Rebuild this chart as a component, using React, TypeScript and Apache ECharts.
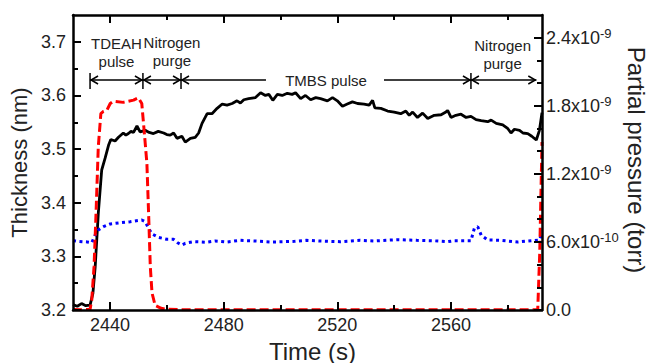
import React, { useEffect, useRef } from "react";
import * as echarts from "echarts";

// Thickness (nm) vs time (s)
const thicknessTime = [
  2427, 2428.5, 2430, 2431.5, 2433, 2434, 2434.8, 2435.9, 2437.1, 2438.3, 2439.5, 2440.3, 2441.8, 2443,
  2444.7, 2445.6, 2446.5, 2447.4, 2448.3, 2449.5, 2450.6, 2452.4, 2453.8, 2455.3, 2457, 2458.9, 2460,
  2461.2, 2462.4, 2463.6, 2465.3, 2466.5, 2468.3, 2470, 2471.2, 2472.4, 2474.2, 2475.9, 2477.7, 2479.5,
  2481.2, 2483, 2484.7, 2485.9, 2487.1, 2488.8, 2491.2, 2493, 2494.7, 2495.9, 2497.3, 2498.9, 2500.6,
  2502.4, 2504.1, 2505.3, 2507.1, 2508.8, 2510.6, 2512.4, 2514.1, 2516.5, 2518.3, 2520, 2521.8, 2523.5,
  2525.3, 2527.1, 2529.4, 2531.2, 2532.4, 2533.2, 2535.3, 2537.7, 2540, 2542.3, 2544.1, 2545.3, 2546.5,
  2548.2, 2550, 2551.8, 2554.1, 2556.5, 2558.2, 2558.8, 2560, 2561.7, 2563.5, 2565.3, 2567, 2568.8,
  2570.6, 2572.9, 2574.1, 2575.9, 2578.2, 2580, 2581.1, 2582.3, 2584.1, 2585.3, 2587, 2588.4, 2590,
  2591.1, 2592,
];
const thicknessNm = [
  3.21, 3.207, 3.212, 3.208, 3.209, 3.231, 3.28, 3.38, 3.461, 3.483, 3.507, 3.518, 3.515, 3.522,
  3.53, 3.526, 3.529, 3.533, 3.531, 3.543, 3.532, 3.535, 3.531, 3.529, 3.533, 3.53, 3.527,
  3.526, 3.53, 3.52, 3.524, 3.513, 3.52, 3.522, 3.53, 3.548, 3.566, 3.566, 3.576, 3.584,
  3.582, 3.585, 3.59, 3.586, 3.592, 3.594, 3.596, 3.605, 3.6, 3.602, 3.591, 3.602, 3.6,
  3.604, 3.602, 3.605, 3.594, 3.6, 3.592, 3.596, 3.594, 3.59, 3.596, 3.59, 3.58, 3.584,
  3.588, 3.585, 3.584, 3.582, 3.591, 3.577, 3.576, 3.571, 3.569, 3.566, 3.571, 3.563, 3.569,
  3.559, 3.567, 3.557, 3.563, 3.564, 3.569, 3.572, 3.559, 3.563, 3.565, 3.559, 3.561, 3.555,
  3.553, 3.551, 3.554, 3.548, 3.545, 3.538, 3.53, 3.537, 3.535, 3.53, 3.529, 3.524, 3.517,
  3.535, 3.568,
];

// TDEAH partial pressure, in units of 1e-10 torr
const tdeahTime = [
  2427, 2430, 2433, 2433.6, 2434.4, 2435.1, 2435.9, 2436.8, 2437.7, 2438.9, 2440.1, 2441.2, 2444.7,
  2448.3, 2450, 2451.2, 2452, 2453, 2453.6, 2454.2, 2454.8, 2455.9, 2458, 2460, 2465, 2480, 2500,
  2520, 2540, 2560, 2580, 2590.5, 2591.2, 2592,
];
const tdeahPressure = [
  0.05, 0.03, 0.05, 0.9, 3.8, 8.5, 14.4, 17.3, 17.5, 17.6, 18.2, 18.4, 18.3,
  18.5, 18.7, 18.2, 15.9, 12.9, 8.5, 3.8, 1.5, 0.4, 0.15, 0.06, 0.03, 0.03, 0.03,
  0.03, 0.03, 0.03, 0.03, 0.03, 5, 14.8,
];

// TMBS partial pressure, in units of 1e-10 torr
const tmbsTime = [
  2427, 2429, 2430.6, 2432, 2433.6, 2434.8, 2435.9, 2437.7, 2440.1, 2443.6, 2447.1, 2451.2, 2452.4,
  2453.6, 2454.8, 2457.1, 2460, 2462.4, 2463.8, 2465.3, 2466.5, 2469.4, 2471.8, 2474, 2477, 2481,
  2485.9, 2491, 2497, 2501, 2505, 2509, 2514, 2521, 2528, 2533, 2541, 2548, 2554, 2558.8, 2561,
  2567, 2568.2, 2569.4, 2570.6, 2572.9, 2577.6, 2583.5, 2587, 2591.1, 2592,
];
const tmbsPressure = [
  6.11, 6.05, 6.02, 6.0, 5.93, 6.61, 7.05, 7.34, 7.58, 7.69, 7.78, 7.93, 7.78,
  7.2, 6.7, 6.4, 6.23, 6.23, 5.93, 5.73, 5.88, 6.02, 6.0, 5.97, 6.08, 5.99,
  6.14, 6.08, 5.99, 6.02, 6.05, 6.14, 6.08, 6.02, 6.14, 6.08, 6.2, 6.14, 6.1, 6.02, 6.1,
  6.1, 7.2, 7.34, 6.6, 6.17, 6.14, 5.99, 6.08, 6.17, 6.76,
];

const PRESSURE_UNIT = 1e-10;

const xMajorTicks = [2440, 2480, 2520, 2560];
const xMinorTicks = [2460, 2500, 2540, 2580];
const leftMajorTicks = [3.2, 3.3, 3.4, 3.5, 3.6, 3.7];
const leftMinorTicks = [3.25, 3.35, 3.45, 3.55, 3.65];
const rightMajorTicks = [0, 6, 12, 18, 24];
const rightMinorTicks = [2, 4, 8, 10, 14, 16, 20, 22];

// Phase annotations (time positions of the markers)
const phaseBounds = [2433, 2451.6, 2465, 2567, 2590];
const phaseLabels = ["TDEAH\npulse", "Nitrogen\npurge", "TMBS pulse", "Nitrogen\npurge"];
const rightAxisTitle = "Partial pressure (torr)";

const FONT = "'Liberation Sans', Arial, Helvetica, sans-serif";
const TEXT = "#222";

function pressureLabel(v: number): string {
  if (Math.abs(v) < 1e-9) return "{m|0.0}";
  const val = v * PRESSURE_UNIT;
  const e = Math.floor(Math.log10(val) + 1e-9);
  const m = val / Math.pow(10, e);
  return `{m|${m.toFixed(1)}x10}{s|${e}}`;
}

export default function App() {
  const ref = useRef<HTMLDivElement>(null);

  useEffect(() => {
    document.body.style.margin = "0";
    const el = ref.current;
    if (!el) return;
    const chart = echarts.init(el, null, { renderer: "svg" });

    const xMin = 2427;
    const xMax = 2592;
    const axisLine = { show: true, lineStyle: { color: "#000", width: 2.5 } };
    const majorTick = (vals: number[]) => ({
      show: true,
      inside: true,
      length: 8,
      customValues: vals,
      lineStyle: { color: "#000", width: 2 },
    });
    const minorTick = (vals: number[]) => ({
      show: true,
      inside: true,
      length: 5,
      customValues: vals,
      lineStyle: { color: "#000", width: 2 },
    });

    const option: any = {
      animation: false,
      backgroundColor: "#fff",
      grid: {
        left: 73,
        right: 108,
        top: 15,
        bottom: 53,
        containLabel: false,
        outerBoundsMode: "none",
      },
      xAxis: [
        {
          type: "value",
          min: xMin,
          max: xMax,
          position: "bottom",
          axisLine,
          axisTick: majorTick(xMajorTicks),
          axisLabel: {
            customValues: xMajorTicks,
            formatter: (v: number) => String(Math.round(v)),
            fontSize: 18,
            fontFamily: FONT,
            color: TEXT,
            margin: 6,
          },
          splitLine: { show: false },
          name: "Time (s)",
          nameLocation: "middle",
          nameGap: 29,
          nameTextStyle: { fontSize: 24, fontFamily: FONT, color: TEXT, padding: [0, 0, 0, 10] },
          z: 10,
        },
        {
          type: "value",
          min: xMin,
          max: xMax,
          position: "bottom",
          axisLine: { show: false },
          axisTick: minorTick(xMinorTicks),
          axisLabel: { show: false, customValues: xMinorTicks },
          splitLine: { show: false },
          z: 10,
        },
        {
          type: "value",
          min: xMin,
          max: xMax,
          position: "top",
          axisLine,
          axisTick: majorTick(xMajorTicks),
          axisLabel: { show: false, customValues: xMajorTicks },
          splitLine: { show: false },
          z: 10,
        },
        {
          type: "value",
          min: xMin,
          max: xMax,
          position: "top",
          axisLine: { show: false },
          axisTick: minorTick(xMinorTicks),
          axisLabel: { show: false, customValues: xMinorTicks },
          splitLine: { show: false },
          z: 10,
        },
      ],
      yAxis: [
        {
          type: "value",
          min: 3.2,
          max: 3.75,
          position: "left",
          axisLine,
          axisTick: majorTick(leftMajorTicks),
          axisLabel: {
            customValues: leftMajorTicks,
            formatter: (v: number) => v.toFixed(1),
            fontSize: 18,
            fontFamily: FONT,
            color: TEXT,
            margin: 7,
          },
          splitLine: { show: false },
          name: "Thickness (nm)",
          nameLocation: "middle",
          nameGap: 40,
          nameTextStyle: { fontSize: 22, fontFamily: FONT, color: TEXT },
          z: 10,
        },
        {
          type: "value",
          min: 0,
          max: 26,
          position: "right",
          axisLine,
          axisTick: majorTick(rightMajorTicks),
          axisLabel: {
            customValues: rightMajorTicks,
            formatter: pressureLabel,
            margin: 4,
            rich: {
              m: { fontSize: 18, fontFamily: FONT, color: TEXT },
              s: { fontSize: 13, fontFamily: FONT, color: TEXT, verticalAlign: "top", padding: [0, 0, 8, 0] },
            },
          },
          splitLine: { show: false },
          z: 10,
        },
        {
          type: "value",
          min: 3.2,
          max: 3.75,
          position: "left",
          axisLine: { show: false },
          axisTick: minorTick(leftMinorTicks),
          axisLabel: { show: false, customValues: leftMinorTicks },
          splitLine: { show: false },
          z: 10,
        },
        {
          type: "value",
          min: 0,
          max: 26,
          position: "right",
          axisLine: { show: false },
          axisTick: minorTick(rightMinorTicks),
          axisLabel: { show: false, customValues: rightMinorTicks },
          splitLine: { show: false },
          z: 10,
        },
      ],
      series: [
        {
          name: "Thickness",
          type: "line",
          xAxisIndex: 0,
          yAxisIndex: 0,
          showSymbol: false,
          symbol: "none",
          data: thicknessTime.map((t, i) => [t, thicknessNm[i]]),
          lineStyle: { color: "#000", width: 2.8 },
          z: 3,
        },
        {
          name: "TMBS",
          type: "line",
          xAxisIndex: 0,
          yAxisIndex: 1,
          showSymbol: false,
          symbol: "none",
          data: tmbsTime.map((t, i) => [t, tmbsPressure[i]]),
          lineStyle: { color: "#0000ff", width: 3, type: [3, 3.5] },
          z: 4,
        },
        {
          name: "TDEAH",
          type: "line",
          xAxisIndex: 0,
          yAxisIndex: 1,
          showSymbol: false,
          symbol: "none",
          data: tdeahTime.map((t, i) => [t, tdeahPressure[i]]),
          lineStyle: { color: "#ff0000", width: 3, type: [9, 4] },
          z: 5,
        },
      ],
    };

    chart.setOption(option);

    const px = (t: number) => chart.convertToPixel({ xAxisIndex: 0 }, t) as number;
    const ay = 80; // arrow row
    const stroke = { stroke: "#000", lineWidth: 1.5, fill: "none" };
    const els: any[] = [];
    const bar = (x: number) =>
      els.push({ type: "line", shape: { x1: x, y1: 73, x2: x, y2: 89 }, style: stroke, z: 20 });
    const seg = (a: number, b: number) =>
      els.push({ type: "line", shape: { x1: a, y1: ay, x2: b, y2: ay }, style: stroke, z: 20 });
    const headL = (x: number) =>
      els.push({ type: "polyline", shape: { points: [[x + 8, ay - 4], [x + 1, ay], [x + 8, ay + 4]] }, style: stroke, z: 20 });
    const headR = (x: number) =>
      els.push({ type: "polyline", shape: { points: [[x - 8, ay - 4], [x - 1, ay], [x - 8, ay + 4]] }, style: stroke, z: 20 });
    const label = (x: number, y: number, text: string) =>
      els.push({
        type: "text",
        x,
        y,
        style: { text, fill: TEXT, fontSize: 15, fontFamily: FONT, align: "center", verticalAlign: "middle", lineHeight: 18 },
        z: 20,
      });

    const b = phaseBounds.map(px);
    bar(b[0]);
    bar(b[1]);
    bar(b[2]);
    bar(b[3]);
    // TDEAH pulse
    seg(b[0], b[1]);
    headL(b[0]);
    headR(b[1]);
    // Nitrogen purge
    seg(b[1], b[2]);
    headL(b[1]);
    headR(b[2]);
    // TMBS pulse (line broken by label)
    const tmbsMid = (b[2] + b[3]) / 2;
    seg(b[2], tmbsMid - 60);
    seg(tmbsMid + 58, b[3]);
    headL(b[2]);
    headR(b[3]);
    // Final nitrogen purge
    seg(b[3], b[4]);
    headL(b[3]);
    headR(b[4]);

    label((b[0] + b[1]) / 2, 52, phaseLabels[0]);
    label((b[1] + b[2]) / 2 + 10, 51, phaseLabels[1]);
    label(tmbsMid, ay, phaseLabels[2]);
    label((b[3] + b[4]) / 2 - 1, 54, phaseLabels[3]);

    // Right axis title, reading top to bottom
    els.push({
      type: "text",
      x: 636,
      y: 160,
      rotation: -Math.PI / 2,
      style: {
        text: rightAxisTitle,
        fill: TEXT,
        fontSize: 24,
        fontFamily: FONT,
        align: "center",
        verticalAlign: "middle",
      },
      z: 20,
    });

    chart.setOption({ graphic: els });

    return () => chart.dispose();
  }, []);

  return <div ref={ref} style={{ width: 650, height: 363 }} />;
}
